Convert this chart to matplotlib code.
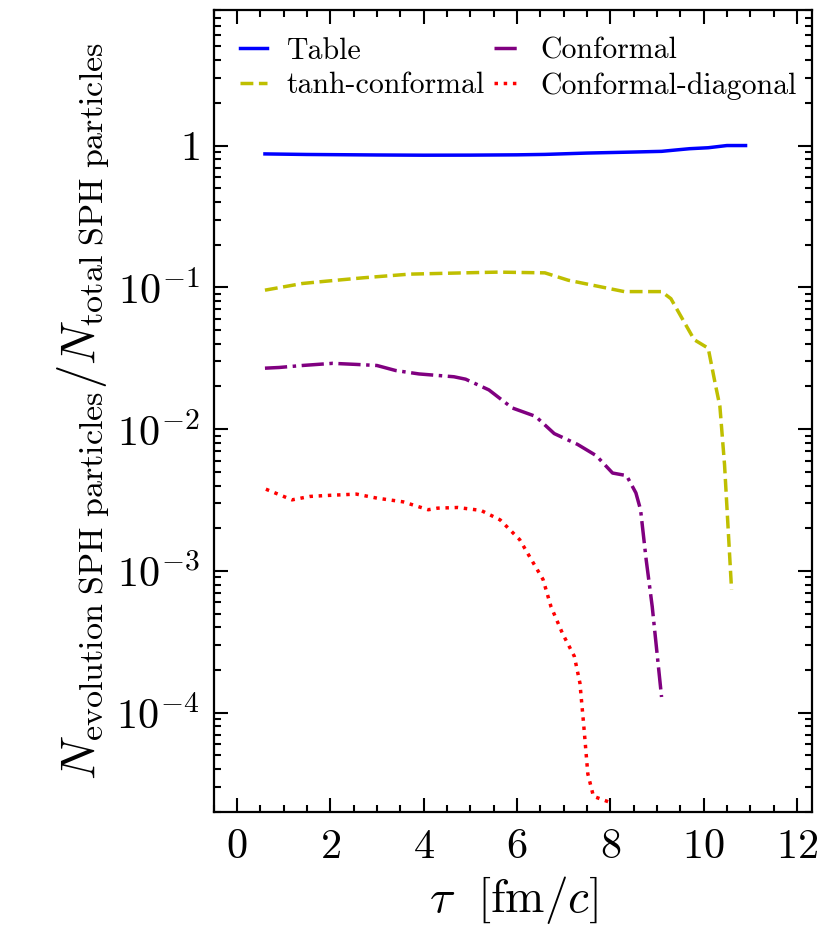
import numpy as np
import matplotlib
matplotlib.use("Agg")
import matplotlib.pyplot as plt
from matplotlib.ticker import MultipleLocator, LogLocator, FixedLocator, FixedFormatter, NullFormatter

# --- data ---
tau_table = [0.6, 1.5, 3.0, 4.0, 5.0, 6.0, 6.6, 7.5, 8.5, 9.1, 9.4, 9.7, 10.1, 10.5, 10.9]
frac_table = [0.873, 0.865, 0.858, 0.855, 0.856, 0.86, 0.866, 0.885, 0.90, 0.91, 0.93, 0.95, 0.965, 1.0, 1.0]

tau_tanh = [0.6, 1.4, 1.9, 2.7, 3.7, 4.2, 5.1, 5.6, 6.6, 7.1, 7.7, 8.3, 9.1, 9.3, 9.8, 10.1,
            10.25, 10.35, 10.45, 10.6]
frac_tanh = [0.0955, 0.1064, 0.1104, 0.1167, 0.1239, 0.125, 0.127, 0.128, 0.1265, 0.1122,
             0.1023, 0.0933, 0.0933, 0.0832, 0.0427, 0.0372, 0.0209, 0.0145, 0.0056, 0.00074]

tau_conf = [0.6, 0.9, 1.4, 2.05, 2.55, 3.0, 3.4, 3.9, 4.65, 4.9, 5.4, 5.9, 6.4, 6.8, 7.3, 7.7,
            8.05, 8.35, 8.55, 8.65, 8.77, 8.9, 9.1]
frac_conf = [0.0269, 0.0272, 0.0281, 0.0291, 0.0286, 0.0281, 0.0259, 0.0245, 0.0234, 0.0225,
             0.0189, 0.0141, 0.0123, 0.0093, 0.0078, 0.0065, 0.0049, 0.0047, 0.00355, 0.0027,
             0.0012, 0.00056, 0.000129]

tau_diag = [0.62, 1.18, 1.56, 1.9, 2.56, 3.0, 3.56, 4.1, 4.3, 4.73, 5.23, 5.64, 6.06, 6.31,
            6.56, 6.73, 6.98, 7.23, 7.35, 7.43, 7.52, 7.64, 7.98]
frac_diag = [0.00377, 0.00317, 0.00335, 0.0034, 0.00348, 0.00326, 0.00307, 0.0027, 0.00277,
             0.0028, 0.00267, 0.00229, 0.00166, 0.0012, 0.00087, 0.00056, 0.00036, 0.00025,
             0.000162, 8.3e-5, 3.7e-5, 2.57e-5, 2.34e-5]

ytick_vals = [1e-4, 1e-3, 1e-2, 1e-1, 1]
ytick_labels = [r'$10^{-4}$', r'$10^{-3}$', r'$10^{-2}$', r'$10^{-1}$', r'$1$']

# --- style: LaTeX-like look ---
plt.rcParams['font.family'] = 'serif'
plt.rcParams['font.serif'] = ['cmr10']
plt.rcParams['mathtext.fontset'] = 'cm'
plt.rcParams['axes.unicode_minus'] = False
plt.rcParams['axes.formatter.use_mathtext'] = True

fig = plt.figure(figsize=(8.28, 9.32), dpi=100)
ax = fig.add_axes([0.258, 0.129, 0.723, 0.860])

lw = 2.5
ax.plot(tau_table, frac_table, color='blue', ls='-', lw=lw, label='Table')
ax.plot(tau_tanh, frac_tanh, color='y', ls='--', lw=lw, label='tanh-conformal')
ax.plot(tau_conf, frac_conf, color='purple', ls='-.', lw=lw, label='Conformal')
ax.plot(tau_diag, frac_diag, color='red', ls=':', lw=lw, label='Conformal-diagonal')

ax.set_yscale('log')
ax.set_xlim(-0.5, 12.33)
ax.set_ylim(2e-5, 9)

ax.xaxis.set_major_locator(MultipleLocator(2))
ax.xaxis.set_minor_locator(MultipleLocator(0.5))
ax.yaxis.set_major_locator(FixedLocator(ytick_vals))
ax.yaxis.set_major_formatter(FixedFormatter(ytick_labels))
ax.yaxis.set_minor_locator(LogLocator(base=10, subs=np.arange(2, 10), numticks=20))
ax.yaxis.set_minor_formatter(NullFormatter())

ax.tick_params(which='both', direction='in', top=True, right=True, width=1.5)
ax.tick_params(which='major', length=10, labelsize=30.5)
ax.tick_params(axis='x', which='major', pad=12)
ax.tick_params(axis='y', which='major', pad=10)
ax.tick_params(which='minor', length=5)
for s in ax.spines.values():
    s.set_linewidth(1.6)

ax.set_xlabel(r'$\tau\ \ [\mathrm{fm}/c]$', fontsize=34, labelpad=6)
ax.set_ylabel(r'$N_{\mathrm{evolution\ SPH\ particles}}/N_{\mathrm{total\ SPH\ particles}}$',
              fontsize=35, labelpad=4)

ax.legend(loc='upper left', ncol=2, frameon=False, fontsize=21.5, handlelength=0.9,
          handletextpad=0.65, columnspacing=0.3, labelspacing=0.25)

fig.savefig('out.png', dpi=100)
